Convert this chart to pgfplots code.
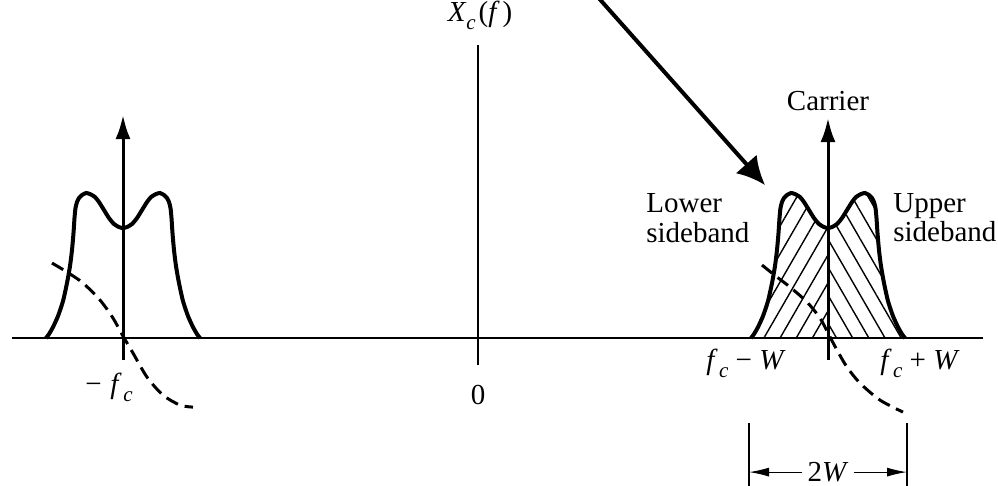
\documentclass[border=0pt]{standalone}
\usepackage{pgfplots}
\pgfplotsset{compat=1.18}
\usepackage{pgfplotstable}
\usepackage{fontspec}
\setmainfont{Liberation Serif}
\usetikzlibrary{arrows.meta,patterns.meta}

\newcommand{\sub}[1]{\raisebox{-0.28em}{\fontsize{10.5pt}{11pt}\selectfont\textit{#1}}}
\newcommand{\fc}{\textit{f}\kern0.05em\sub{c}}

% one sideband lobe, u = offset from carrier (px), h = height above baseline (px)
\pgfplotstableread{
u h
-77 0
-74 4
-70 11
-65 22
-60 37
-56 55
-53 72
-51 88
-49.5 105
-48.5 120
-47.5 130
-46 136
-44 140
-41 143
-37 145
-33 144
-28 141
-24 136
-19 128
-14 120
-9 114
-4 111
0 110
4 111
9 114
14 120
19 128
24 136
28 141
33 144
37 145
41 143
44 140
46 136
47.5 130
48.5 120
49.5 105
51 88
53 72
56 55
60 37
65 22
70 11
74 4
77 0
}\lobe

\pgfplotstableread{
u h
-77 0
-74 4
-70 11
-65 22
-60 37
-56 55
-53 72
-51 88
-49.5 105
-48.5 120
-47.5 130
-46 136
-44 140
-41 143
-37 145
-33 144
-28 141
-24 136
-19 128
-14 120
-9 114
-4 111
0 110
0 0
}\lobeL

\pgfplotstableread{
u h
0 0
0 110
4 111
9 114
14 120
19 128
24 136
28 141
33 144
37 145
41 143
44 140
46 136
47.5 130
48.5 120
49.5 105
51 88
53 72
56 55
60 37
65 22
70 11
74 4
77 0
}\lobeR

\begin{document}
\begin{tikzpicture}[lbl/.style={font=\fontsize{14.5pt}{17pt}\selectfont, inner sep=0pt}]
\begin{axis}[
  scale only axis, width=499pt, height=242.5pt,
  xmin=0, xmax=998, ymin=0, ymax=485,
  axis line style={draw=none}, ticks=none,
  clip mode=global,
]
% hatching of the sidebands around +f_c
\addplot[draw=none, pattern={Lines[angle=60,distance=7pt,line width=0.7pt]}]
  table[x expr=\thisrow{u}+828, y expr=\thisrow{h}+147]{\lobeL};
\addplot[draw=none, pattern={Lines[angle=-60,distance=7pt,line width=0.7pt]}]
  table[x expr=\thisrow{u}+828, y expr=\thisrow{h}+147]{\lobeR};

% axes
\draw[line width=1pt] (12,147) -- (983,147);
\draw[line width=0.8pt] (478,120) -- (478,440);

% spectra outlines
\addplot[line width=2pt, smooth, tension=0.4]
  table[x expr=\thisrow{u}+123, y expr=\thisrow{h}+147]{\lobe};
\addplot[line width=2pt, smooth, tension=0.4]
  table[x expr=\thisrow{u}+828, y expr=\thisrow{h}+147]{\lobe};

% dashed curves
\addplot[line width=1.5pt, dash pattern=on 6.5pt off 3.5pt, smooth] coordinates {
(52,222) (67,213) (83,202) (100,185) (113,167) (123,149) (133,132) (147,108) (163,90) (180,80) (193,78)};
\addplot[line width=1.5pt, dash pattern=on 6.5pt off 3.5pt, smooth] coordinates {
(762,220) (777,208) (790,198) (807,183) (820,167) (828,152) (837,135) (847,118) (860,102) (880,85) (903,73)};

% carriers
\addplot[line width=1.5pt, -{Latex[length=12pt,width=7.5pt]}] coordinates {(123,125) (123,370)};
\addplot[line width=1.5pt, -{Latex[length=12pt,width=7.5pt]}] coordinates {(828,125) (828,367)};

% pointer arrow
\draw[line width=2pt, -{Latex[length=14pt,width=14pt]}] (596,490) -- (765,300);

% 2W dimension
\draw[line width=0.6pt] (749,-5) -- (749,62);
\draw[line width=0.6pt] (907,-5) -- (907,62);
\draw[line width=0.6pt, -{Latex[length=10pt,width=4.5pt]}] (802,13) -- (749,13);
\draw[line width=0.6pt, -{Latex[length=10pt,width=4.5pt]}] (854,13) -- (907,13);
\node[lbl] at (828,13) {2\textit{W}};

% labels
\node[lbl] at (480,470) {\textit{X}\sub{c}\kern0.1em(\textit{f}\kern0.1em)};
\node[lbl] at (478,90) {0};
\node[lbl] at (109,98) {−\kern0.3em\fc};
\node[lbl] at (746,122) {\fc\ − \textit{W}};
\node[lbl] at (920,122) {\fc\ + \textit{W}};
\node[lbl, anchor=base] at (828,375) {Carrier};
\node[lbl, anchor=base west] at (646,273) {Lower};
\node[lbl, anchor=base west] at (646,243) {sideband};
\node[lbl, anchor=base west] at (893,273) {Upper};
\node[lbl, anchor=base west] at (893,244) {sideband};
\end{axis}
\pgfresetboundingbox
\useasboundingbox (current axis.south west) rectangle (current axis.north east);
\end{tikzpicture}
\end{document}
